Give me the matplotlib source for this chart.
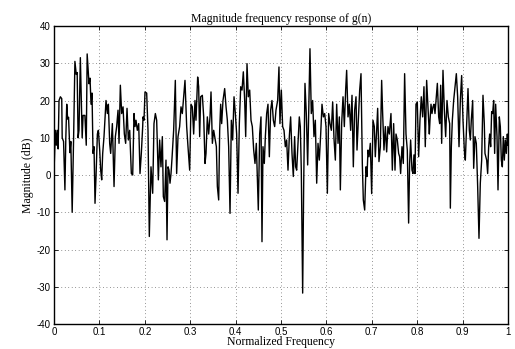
import matplotlib
matplotlib.use("Agg")
import matplotlib.pyplot as plt
import numpy as np

# values (normalized frequency, magnitude in dB)
freq = [
    0.000, 0.003, 0.005, 0.007, 0.009, 0.011, 0.014, 0.017, 0.018, 0.021,
    0.024, 0.026, 0.028, 0.030, 0.032, 0.035, 0.037, 0.040, 0.043, 0.046,
    0.049, 0.051, 0.053, 0.055, 0.058, 0.062, 0.064, 0.068, 0.071, 0.073,
    0.0771, 0.0793, 0.0815, 0.0837, 0.0859, 0.0881, 0.0903, 0.0925, 0.0955, 0.0977,
    0.1006, 0.1028, 0.1050, 0.1072, 0.1101, 0.1145, 0.1175, 0.1197, 0.1226, 0.1248,
    0.1285, 0.1322, 0.1351, 0.1380, 0.1410, 0.1432, 0.1461, 0.1490, 0.1520, 0.1549,
    0.1578, 0.1608, 0.1637, 0.1667, 0.1703, 0.1733, 0.1762, 0.1784, 0.1806, 0.1835,
    0.1865, 0.1894, 0.1923, 0.1953,
    0.1960, 0.1982, 0.2004, 0.2041, 0.2070, 0.2099, 0.2136, 0.2173, 0.2202, 0.2232,
    0.2261, 0.2298, 0.2327, 0.2356, 0.2386, 0.2408, 0.2437, 0.2466, 0.2489, 0.2511,
    0.2533, 0.2555, 0.2577, 0.2599, 0.2635, 0.2672, 0.2701, 0.2731, 0.2767, 0.2797,
    0.2826, 0.2856, 0.2885, 0.2922, 0.2951, 0.2988, 0.3017, 0.3046, 0.3076, 0.3105,
    0.3127, 0.3164, 0.3186, 0.3208, 0.3230,
    0.3267, 0.3297, 0.3326, 0.3348, 0.3377, 0.3407, 0.3436, 0.3458, 0.3488, 0.3517,
    0.3546, 0.3576, 0.3598, 0.3627, 0.3649, 0.3671, 0.3693, 0.3722, 0.3759, 0.3789,
    0.3818, 0.3847, 0.3877, 0.3906, 0.3935, 0.3965, 0.3994, 0.4023, 0.4053, 0.4082,
    0.4112, 0.4141, 0.4170, 0.4200, 0.4222, 0.4251, 0.4280, 0.4310, 0.4339, 0.4368,
    0.4398, 0.4427, 0.4456,
    0.4500, 0.4530, 0.4559, 0.4581, 0.4603, 0.4632, 0.4655, 0.4684, 0.4713, 0.4743,
    0.4772, 0.4801, 0.4831, 0.4860, 0.4889, 0.4926, 0.4955, 0.4977, 0.5007, 0.5036,
    0.5066, 0.5095, 0.5124, 0.5154, 0.5183, 0.5212, 0.5242, 0.5271, 0.5300, 0.5322,
    0.5345, 0.5374, 0.5403, 0.5425, 0.5447, 0.5477, 0.5499, 0.5528, 0.5557, 0.5587,
    0.5609, 0.5638, 0.5667, 0.5697, 0.5726, 0.5756,
    0.5786, 0.5815, 0.5844, 0.5874, 0.5903, 0.5933, 0.5962, 0.5991, 0.6021, 0.6050,
    0.6079, 0.6109, 0.6138, 0.6167, 0.6197, 0.6226, 0.6256, 0.6285, 0.6307, 0.6336,
    0.6366, 0.6395, 0.6424, 0.6446, 0.6476, 0.6505, 0.6534, 0.6564, 0.6593, 0.6622,
    0.6652, 0.6674, 0.6703, 0.6733, 0.6762, 0.6791, 0.6813, 0.6843, 0.6872, 0.6894,
    0.6916, 0.6938, 0.6967,
    0.6997, 0.7026, 0.7055, 0.7077, 0.7107, 0.7129, 0.7158, 0.7188, 0.7217, 0.7239,
    0.7268, 0.7298, 0.7327, 0.7356, 0.7386, 0.7422, 0.7452, 0.7481, 0.7511, 0.7533,
    0.7562, 0.7591, 0.7613, 0.7635, 0.7665, 0.7694, 0.7723, 0.7753, 0.7782, 0.7811,
    0.7833, 0.7855, 0.7885, 0.7907, 0.7929, 0.7951, 0.7973, 0.8002, 0.8032, 0.8061,
    0.8090, 0.8120, 0.8149, 0.8178, 0.8208, 0.8237, 0.8267,
    0.8282, 0.8304, 0.8326, 0.8348, 0.8370, 0.8392, 0.8414, 0.8444, 0.8473, 0.8495,
    0.8517, 0.8539, 0.8568, 0.8598, 0.8627, 0.8656, 0.8686, 0.8715, 0.8730, 0.8752,
    0.8774, 0.8803, 0.8833, 0.8862, 0.8891, 0.8921, 0.8950, 0.8979, 0.9009, 0.9038,
    0.9060, 0.9089, 0.9119, 0.9148, 0.9170, 0.9192, 0.9222, 0.9244, 0.9273, 0.9302,
    0.9332, 0.9361, 0.9390, 0.9420, 0.9449, 0.9478,
    0.9493, 0.9530, 0.9552, 0.9574, 0.9596, 0.9618, 0.9640, 0.9662, 0.9684, 0.9706,
    0.9728, 0.9758, 0.9780, 0.9809, 0.9831, 0.9853, 0.9875, 0.9897, 0.9919, 0.9941,
    0.9963, 0.9985, 1.0000,
]

mag_db = [
    1, 12, 8, 12, 7, 20, 21, 20.5, 10, 9,
    -4, 10, 19, 15, 15.5, 6, 9, -10, 9, 30.5,
    27, 27.5, 10, 12, 31.5, 10, 16, 16, 8, 32.5,
    24.5, 26, 19, 22, 5.8, 7.6, -7.6, -0.4, 11, 12,
    6.7, 1.3, -1.3, 5.8, 10.3, 20, 16.5, 19, 8.5, 5.8,
    13.8, -3.1, 10.3, 13, 17.4, 8.5, 24.1, 16.5, 18.3, 11,
    8.5, 17.9, 9.4, 12, 0.4, 0, 16.5, 13, 14.7, 12,
    13.8, 0.4, 5.8, 13,
    15.6, 14.7, 22.3, 22, 12, -16.5, 2.2, -4.9, 13.8, 16.5,
    14.7, -1.3, 9.4, 2.2, 10.3, -5.8, -7.1, 4, -17.4, 2.2,
    1.3, -2.2, 0.4, 4.5, 12, 25.4, 0.4, 10.3, 13, 18.3,
    16.5, 21, 25.4, 13, 7.6, 1.3, 19, 18.3, 11, 20,
    14.7, 26.3, 23.7, 10.3, 21,
    21.4, 15.6, 3.1, 5.8, 15.6, 11, 15.6, 22.3, 8.5, 12,
    9.8, 7.6, -3.1, -6.7, 12, 19, 13.8, 20, 23.2, 18.3,
    14.7, 7.6, -10.3, 14.7, 9.4, 21, 16.5, 11, -4.9, 13.8,
    23.7, 22.8, 27.7, 20, 10.3, 29.9, 21, 22.8, 14.7, 13,
    6.7, 3.1, 8.5,
    -9.4, 11, 15.6, -17.9, 7.6, 3.1, 10.3, 16.5, 19, 4.9,
    17.4, 20, 14.7, 13, 17.4, 20, 29, 13.8, 22.8, 13,
    12, 7.6, 9.4, 1.3, 10.3, 15.6, 5.8, -0.4, 10.3, 2.2,
    1.3, 8.5, 15.6, 13, 1.3, -31.7, -3.1, 24.6, 16.5, 2.7,
    15.6, 33.9, 16.5, 20, 10.3, 14.7,
    -2.2, 8.5, 4, 11, 19, 15.6, 16.5, 13, -4.9, 16.5,
    13.8, 12, 19.6, 9.8, 4, 19, 8.5, 15.6, -4, 13.8,
    21, 13, 22.8, 28.1, 15.6, 19, 12, 21.4, 2.2, 17.4,
    21, 6.7, 14.7, 22.8, 27.2, 3.1, -6.7, -9.4, 2.2, -0.4,
    6.7, 4.9, 8.5,
    -5, 14.7, 13, 4.9, 12, 17.9, 3.6, 7.6, 25.4, 16.5,
    6.7, 13, 6.2, 13, 11, 16.5, 1.3, 13.8, 1.3, 11,
    9.4, 5.8, 4.9, 0.4, 7.6, 3.1, 27.2, 11, 6.7, -12.9,
    3.1, 9.4, 1.3, 0.4, 5.4, 0.4, 19, 19.6, 4.9, 14.7,
    21, 15.6, 23.7, 7.6, 25.4, 18.3, 11,
    14.7, 19, 16.5, 18.3, 19, 16.5, 20, 24.6, 15.6, 13.8,
    24.1, 8.5, 28.1, 17.4, 10.3, 20, 15.6, 13.8, -8.9, 7.6,
    14.7, 20, 23.7, 27.2, 21, 7.6, 20, 26.7, 14.7, 6.7,
    4, 13.8, 23.2, 12, 9.4, 14.7, 20, 1.8, 10.3, 8.5,
    -3.1, -17, -2.2, 4, 21.4, 13.8,
    5.8, 4, 0.4, 7.6, 11, 7.6, 17, 16.5, 20, 5.8,
    19, 10.3, -4, 15.6, 13, 4, 2.2, 10.3, 4, 9.4,
    5.8, 11, 8,
]

x_ticks = [0, 0.1, 0.2, 0.3, 0.4, 0.5, 0.6, 0.7, 0.8, 0.9, 1]
y_ticks = [-40, -30, -20, -10, 0, 10, 20, 30, 40]

fig = plt.figure(figsize=(5.15, 3.49), dpi=100)
ax = fig.add_axes([0.1049, 0.0716, 0.8815, 0.8539])

ax.plot(freq, mag_db, color="black", linewidth=1.0)

ax.set_xlim(0, 1)
ax.set_ylim(-40, 40)
ax.set_xticks(x_ticks)
ax.set_yticks(y_ticks)
ax.set_xticklabels([f"{t:g}" for t in x_ticks], fontsize=7, family="Liberation Sans")
ax.set_yticklabels([str(t) for t in y_ticks], fontsize=7, family="Liberation Sans")
ax.tick_params(direction="in", length=3, width=0.6, top=True, right=True, pad=2.5)
ax.grid(True, linestyle=(0, (1, 4)), color="#333333", linewidth=0.5)
for s in ax.spines.values():
    s.set_linewidth(1.0)

ax.set_title("Magnitude frequency response of g(n)", family="Liberation Serif", fontsize=8.5, pad=3)
ax.set_xlabel("Normalized Frequency", family="Liberation Serif", fontsize=8.5, labelpad=-1)
ax.set_ylabel("Magnitude (dB)", family="Liberation Serif", fontsize=8.5, labelpad=2)

fig.savefig("out.png", dpi=100)
